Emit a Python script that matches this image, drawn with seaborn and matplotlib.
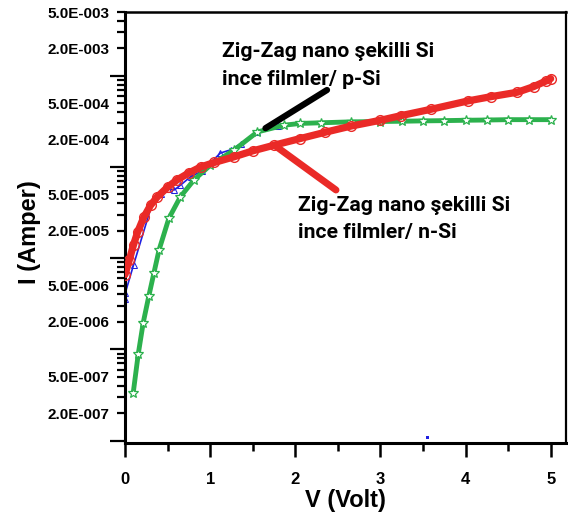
import numpy as np
import matplotlib
matplotlib.use("Agg")
import matplotlib.pyplot as plt
import seaborn as sns
from matplotlib.ticker import FixedLocator, FuncFormatter, NullFormatter

# ---------------- data ----------------
n_si_V = [0.00, 0.05, 0.10, 0.15, 0.22, 0.30, 0.38, 0.50, 0.61, 0.75, 0.89, 1.05,
          1.28, 1.50, 1.75, 2.06, 2.35, 2.65, 3.00, 3.24, 3.60, 4.03, 4.30, 4.61,
          4.80, 4.95, 5.00]
n_si_I = [6.6e-6, 9.5e-6, 1.4e-5, 1.95e-5, 2.8e-5, 3.8e-5, 4.7e-5, 6.0e-5, 7.2e-5,
          8.6e-5, 1.0e-4, 1.12e-4, 1.29e-4, 1.5e-4, 1.73e-4, 2.05e-4, 2.4e-4, 2.8e-4,
          3.25e-4, 3.65e-4, 4.3e-4, 5.3e-4, 5.9e-4, 6.6e-4, 7.6e-4, 8.8e-4, 9.3e-4]

p_si_V = [0.096, 0.155, 0.214, 0.28, 0.34, 0.40, 0.515, 0.65, 0.81, 1.00, 1.28,
          1.555, 1.87, 2.06, 2.30, 2.65, 3.00, 3.25, 3.50, 3.75, 4.00, 4.25, 4.50,
          4.75, 5.00]
p_si_I = [3.3e-7, 8.8e-7, 1.96e-6, 3.85e-6, 6.9e-6, 1.23e-5, 2.73e-5, 4.7e-5,
          7.2e-5, 1.04e-4, 1.53e-4, 2.42e-4, 2.87e-4, 3.0e-4, 3.05e-4, 3.12e-4,
          3.15e-4, 3.17e-4, 3.2e-4, 3.22e-4, 3.25e-4, 3.27e-4, 3.3e-4, 3.3e-4, 3.3e-4]

raw_V = [0.005, 0.005, 0.10, 0.34, 0.42, 0.50, 0.58, 0.65, 0.77, 0.90, 1.00, 1.12,
         1.25, 1.36, 1.55, 1.80]
raw_I = [3.6e-6, 4.2e-6, 8.4e-6, 4.6e-5, 5.0e-5, 5.8e-5, 5.6e-5, 6.3e-5, 7.8e-5,
         9.0e-5, 1.1e-4, 1.42e-4, 1.55e-4, 1.8e-4, 2.4e-4, 2.8e-4]

stray_V = [3.55]
stray_I = [1.07e-7]

x_ticks = [0, 1, 2, 3, 4, 5]
x_minor = [0.5, 1.5, 2.5, 3.5, 4.5]
y_decades = [-8, -7, -6, -5, -4, -3]
y_labelled_mantissas = [2, 5]

label_p = ["Zig-Zag nano şekilli Si", "ince filmler/ p-Si"]
label_n = ["Zig-Zag nano şekilli Si", "ince filmler/ n-Si"]

RED = "#ea2a27"
GREEN = "#2cb14d"
BLUE = "#2020e0"

# ---------------- figure ----------------
sns.set_theme(style="white")
plt.rcParams["font.family"] = ["Liberation Sans", "DejaVu Sans"]
plt.rcParams["font.weight"] = "bold"

W, H = 568, 518
fig = plt.figure(figsize=(W / 100, H / 100), dpi=100)
fig.patch.set_facecolor("white")
ax = fig.add_axes([125 / W, 75 / H, 441 / W, 431 / H])
ax.set_facecolor("white")
ax.set_yscale("log")

sns.lineplot(x=raw_V, y=raw_I, ax=ax, color=BLUE, lw=1.2, marker="^", markersize=4,
             markerfacecolor="none", markeredgecolor=BLUE, sort=False, estimator=None,
             zorder=1)
sns.lineplot(x=p_si_V, y=p_si_I, ax=ax, color=GREEN, lw=3.5, marker="*", markersize=7,
             markerfacecolor="white", markeredgecolor=GREEN, markeredgewidth=0.9,
             sort=False, estimator=None, zorder=3)
sns.lineplot(x=n_si_V, y=n_si_I, ax=ax, color=RED, lw=5.2, marker="o", markersize=7,
             markerfacecolor="none", markeredgecolor=RED, markeredgewidth=1.0,
             sort=False, estimator=None, zorder=4)
sns.scatterplot(x=stray_V, y=stray_I, ax=ax, color=BLUE, s=4, marker="s",
                edgecolor="none", zorder=2)

ax.set_xlim(0, 5.18)
ax.set_ylim(9.4e-8, 5e-3)

# y ticks
ax.yaxis.set_major_locator(FixedLocator([10.0 ** d for d in y_decades]))
ax.yaxis.set_major_formatter(NullFormatter())
minor_vals = [m * 10.0 ** d for d in y_decades for m in range(2, 10)]
ax.yaxis.set_minor_locator(FixedLocator(minor_vals))


def fmt_minor(v, pos):
    e = int(np.floor(np.log10(v) + 1e-9))
    m = int(round(v / 10.0 ** e))
    if m in y_labelled_mantissas:
        return f"{m}.0E-{abs(e):03d}"
    return ""


ax.yaxis.set_minor_formatter(FuncFormatter(fmt_minor))

# x ticks
ax.xaxis.set_major_locator(FixedLocator(x_ticks))
ax.xaxis.set_minor_locator(FixedLocator(x_minor))
ax.set_xticklabels([str(t) for t in x_ticks])

ax.tick_params(axis="y", which="major", direction="out", length=11, width=1.6,
               left=True, colors="black")
ax.tick_params(axis="y", which="minor", direction="out", length=6, width=1.6,
               left=True, labelsize=11, pad=5, labelcolor="black", colors="black")
ax.tick_params(axis="x", which="major", direction="out", length=10, width=1.8,
               bottom=True, labelsize=12, pad=11, colors="black")
ax.tick_params(axis="x", which="minor", direction="out", length=6, width=1.8,
               bottom=True, colors="black")
for lab in ax.get_yticklabels(minor=True) + ax.get_xticklabels():
    lab.set_fontweight("bold")

for side, lw in [("left", 2.2), ("bottom", 2.2), ("top", 1.8), ("right", 1.6)]:
    ax.spines[side].set_visible(True)
    ax.spines[side].set_color("black")
    ax.spines[side].set_linewidth(lw)

ax.set_xlabel("V (Volt)", fontsize=17, fontweight="bold", color="black", labelpad=1)
ax.set_ylabel("I (Amper)", fontsize=17, fontweight="bold", color="black")
ax.yaxis.set_label_coords(-0.19, 0.49)

# ---------------- annotations ----------------
ax.annotate("", xy=(1.65, 2.66e-4), xytext=(327 / W, 1 - 90 / H),
            textcoords="figure fraction",
            arrowprops=dict(arrowstyle="-", color="black", lw=4.5, shrinkA=0, shrinkB=0),
            zorder=6)
ax.annotate("", xy=(1.77, 1.69e-4), xytext=(336 / W, 1 - 190 / H),
            textcoords="figure fraction",
            arrowprops=dict(arrowstyle="-", color=RED, lw=5, shrinkA=0, shrinkB=0),
            zorder=6)

ann_font = ["Roboto", "DejaVu Sans"]
fig.canvas.draw()
renderer = fig.canvas.get_renderer()


def put_lines(lines, x0, base0, step, target_w=212):
    t = fig.text(x0 / W, 1 - base0 / H, lines[0], fontsize=14, fontweight="bold",
                 family=ann_font, ha="left", va="baseline", color="black")
    w = t.get_window_extent(renderer).width
    fs = 14 * target_w / w
    t.set_fontsize(fs)
    for i, s in enumerate(lines[1:], start=1):
        fig.text(x0 / W, 1 - (base0 + i * step) / H, s, fontsize=fs, fontweight="bold",
                 family=ann_font, ha="left", va="baseline", color="black")


put_lines(label_p, 222, 57, 28)
put_lines(label_n, 298, 211, 27)

fig.savefig("out.png", dpi=100, facecolor="white")
